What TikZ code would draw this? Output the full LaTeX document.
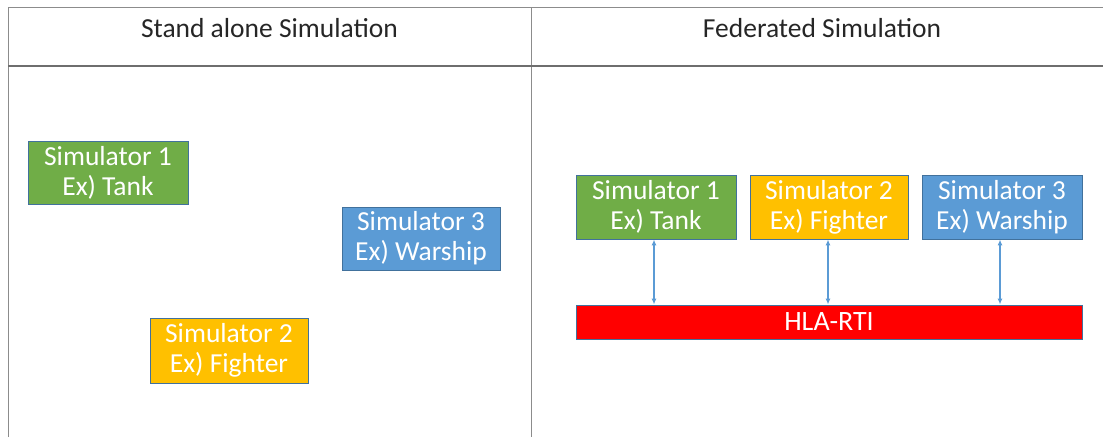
\documentclass[tikz,border=0pt]{standalone}
\usepackage{fontspec}
\setmainfont{Carlito}
\usetikzlibrary{arrows.meta}
\definecolor{simgreen}{HTML}{70AD47}
\definecolor{simorange}{HTML}{FFC000}
\definecolor{simblue}{HTML}{5B9BD5}
\definecolor{simred}{HTML}{FF0000}
\definecolor{outline}{HTML}{41719C}
\definecolor{gridgray}{HTML}{8C8C8C}
\definecolor{headgray}{HTML}{6E6E6E}
\tikzset{
  sim/.style={draw=outline, line width=0.9pt, text=white, align=center,
    minimum width=#1, minimum height=63pt, inner sep=0pt,
    font=\fontsize{27.5}{30}\selectfont},
  sim/.default=160pt,
  rti/.style={draw=outline, line width=0.9pt, fill=simred, text=white,
    minimum width=506pt, minimum height=34pt, inner sep=0pt,
    font=\fontsize{28}{30}\selectfont},
  head/.style={text=black!85, font=\fontsize{27.5}{30}\selectfont},
  link/.style={draw=simblue, line width=1.2pt, {Latex[length=6pt,width=5pt]}-{Latex[length=6pt,width=5pt]}},
  grid/.style={draw=gridgray, line width=1pt}
}
\begin{document}
\begin{tikzpicture}[x=1pt,y=-1pt]
\useasboundingbox (0,0) rectangle (1103,437);
% table
\draw[grid] (8,437) -- (8,7) -- (1103,7);
\draw[grid] (531,7) -- (531,437);
\draw[draw=headgray, line width=2pt] (8,66) -- (1103,66);
\node[head] (h1) at (269.5,28) {Stand alone Simulation};
\node[head] (h2) at (822,28) {Federated Simulation};
% stand alone
\node[sim=160pt, fill=simgreen] (l1) at (108,172.5) {Simulator 1\\Ex) Tank};
\node[sim=158pt, fill=simblue] (l3) at (421,238.5) {Simulator 3\\Ex) Warship};
\node[sim=158pt, fill=simorange, minimum height=65pt] (l2) at (229,350.5) {Simulator 2\\Ex) Fighter};
% federated
\node[sim=160pt, fill=simgreen, minimum height=64pt] (r1) at (656,207) {Simulator 1\\Ex) Tank};
\node[sim=158pt, fill=simorange, minimum height=64pt] (r2) at (829,207) {Simulator 2\\Ex) Fighter};
\node[sim=160pt, fill=simblue, minimum height=64pt] (r3) at (1002,207) {Simulator 3\\Ex) Warship};
\node[rti] (rti) at (829,322) {HLA-RTI};
\draw[link] ([xshift=-2pt]r1.south) -- ([xshift=-2pt]r1.south |- rti.north);
\draw[link] ([xshift=-1pt]r2.south) -- ([xshift=-1pt]r2.south |- rti.north);
\draw[link] ([xshift=-2pt]r3.south) -- ([xshift=-2pt]r3.south |- rti.north);
\end{tikzpicture}
\end{document}
